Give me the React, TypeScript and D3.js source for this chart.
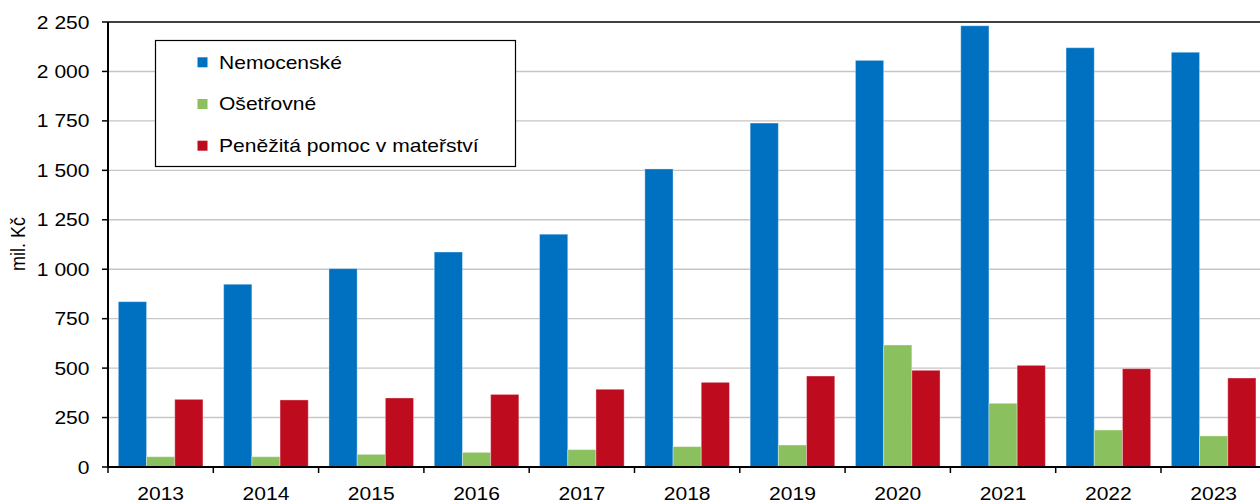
import React from "react";
import * as d3 from "d3";

const years = ["2013","2014","2015","2016","2017","2018","2019","2020","2021","2022","2023"];
const seriesNames = ["Nemocenské","Ošetřovné","Peněžitá pomoc v mateřství"];
const nemocenske = [836, 924, 1003, 1087, 1177, 1507, 1739, 2056, 2231, 2120, 2097];
const osetrovne = [52, 52, 64, 74, 88, 103, 111, 617, 322, 187, 157];
const penezita = [342, 339, 349, 367, 393, 428, 460, 489, 514, 497, 450];
const yTicks = [0, 250, 500, 750, 1000, 1250, 1500, 1750, 2000, 2250];
const colors = ["#0070C0", "#8BC05F", "#BE0B1E"];
const yLabel = "mil. Kč";

const W = 1260, H = 502;
const left = 108, top = 22, bottom = 467;
const step = 105.3;
const SX = 1.17;

function fmt(v: number) {
  const s = String(v);
  return s.replace(/\B(?=(\d{3})+(?!\d))/g, " ");
}

export default function App() {
  const x0 = d3.scaleBand<string>().domain(years).range([left, left + step * years.length]).paddingInner(0).paddingOuter(0);
  const x1 = d3.scaleBand<string>().domain(seriesNames).range([0, x0.bandwidth()]).paddingInner(0).paddingOuter(0.367);
  const y = d3.scaleLinear().domain([0, 2250]).range([bottom, top]);
  const data = [nemocenske, osetrovne, penezita];
  const font = "'Liberation Sans', Arial, sans-serif";

  const txt = (x: number, yy: number, s: string, anchor: string, key?: any, rot?: boolean) => (
    <text key={key} transform={`translate(${x},${yy}) scale(${SX},1)${rot ? " rotate(-90)" : ""}`} textAnchor={anchor as any} fontFamily={font} fontSize={18} fill="#000">{s}</text>
  );

  return (
    <svg width={W} height={H} style={{ position: "absolute", left: 0, top: 0, background: "#fff" }}>
      <rect x={0} y={0} width={W} height={H} fill="#fff" />
      {yTicks.filter(t => t > 0 && t < 2250).map(t => (
        <line key={"g" + t} x1={left} x2={W} y1={y(t)} y2={y(t)} stroke="#C6C6C6" strokeWidth={1.4} />
      ))}
      <line x1={left} x2={W} y1={y(2250)} y2={y(2250)} stroke="#000" strokeWidth={1.6} />
      {years.map((yr, i) => (
        <g key={yr}>
          {data.map((arr, s) => (
            <rect key={s} x={(x0(yr) as number) + (x1(seriesNames[s]) as number)} y={y(arr[i])}
              width={x1.bandwidth()} height={bottom - y(arr[i])} fill={colors[s]}
              stroke="#ffffff" strokeOpacity={0.35} strokeWidth={1} />
          ))}
        </g>
      ))}
      {/* y axis */}
      <line x1={left} x2={left} y1={top} y2={bottom + 1} stroke="#000" strokeWidth={2} />
      {yTicks.map(t => (
        <g key={"t" + t}>
          <line x1={left - 6} x2={left} y1={y(t)} y2={y(t)} stroke="#000" strokeWidth={1.5} />
          {txt(left - 18.5, y(t) + 6.5, fmt(t), "end")}
        </g>
      ))}
      {/* x axis */}
      <line x1={left} x2={W} y1={bottom} y2={bottom} stroke="#000" strokeWidth={2} />
      {years.map((yr, i) => (
        <g key={"x" + yr}>
          <line x1={x0(yr) as number} x2={x0(yr) as number} y1={bottom} y2={bottom + 6} stroke="#000" strokeWidth={1.5} />
          {txt((x0(yr) as number) + x0.bandwidth() / 2, 499.5, yr, "middle")}
        </g>
      ))}
      {txt(25, 244, yLabel, "middle", "yl", true)}
      {/* legend */}
      <rect x={155.5} y={40.5} width={360} height={126} fill="#fff" stroke="#000" strokeWidth={1.2} />
      {seriesNames.map((n, i) => (
        <g key={"l" + n}>
          <rect x={197.5} y={57.3 + i * 41.7} width={10} height={10} fill={colors[i]} />
          {txt(219, 68.5 + i * 41.7, n, "start")}
        </g>
      ))}
    </svg>
  );
}
